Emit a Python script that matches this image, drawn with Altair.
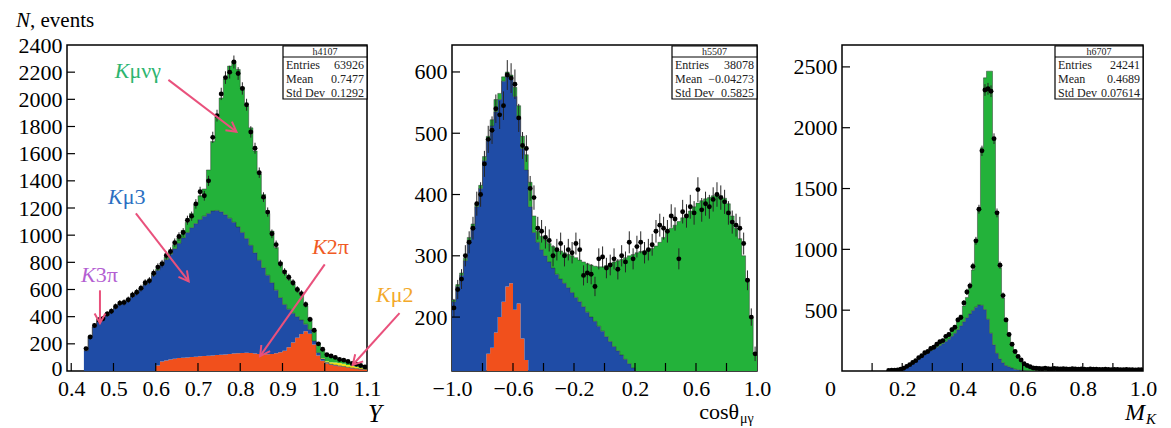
import math
import numpy as np
import pandas as pd
import altair as alt

FONT = "Liberation Serif, Times New Roman, DejaVu Serif, serif"
GREEN = "#23b23a"
BLUE = "#1f4ca6"
RED = "#f1501c"
YELLOW = "#ede31b"
PINK = "#e9517c"

# ---------------- panel 1 : Y (bins of 0.01 starting at 0.43) ----------------
Y_START, Y_BW = 0.43, 0.01
y_red = [0] * 17 + [40, 70, 78, 85, 90, 95, 98, 100, 103, 105,
                    108, 110, 112, 115, 118, 120, 122, 125, 128, 130,
                    132, 135, 132, 128, 125, 122, 124, 126, 130, 138,
                    150, 175, 210, 245, 272, 292, 275, 195, 115, 75,
                    55, 45, 40, 35, 30, 25, 20, 16, 13, 10]
y_blue = [150, 255, 325, 365, 390, 410, 440, 465, 490, 510, 528, 548, 572, 598, 635, 665, 705,
          702, 712, 742, 775, 810, 845, 882, 920, 952, 980,
          1007, 1030, 1048, 1063, 1064, 1052, 1028, 1000, 967, 930,
          888, 840, 793, 742, 690, 638, 581, 524, 465, 402,
          340, 280, 215, 155, 103, 53, 30, 25, 20, 13,
          7, 5, 4, 3, 3, 2, 2, 2, 1, 1]
y_yellow = [0] * 56 + [5, 10, 15, 18, 20, 20, 18, 16, 13, 10, 8]
y_green = [0, 0, 0, 0, 0, 2, 2, 2, 2, 2,
           2, 2, 3, 4, 5, 5, 7, 10, 13, 18,
           22, 30, 40, 55, 75, 105, 140, 175, 200, 320,
           512, 688, 838, 1000, 1120, 1185, 1160, 1070, 975, 865,
           750, 635, 540, 455, 380, 315, 260, 230, 220, 215,
           205, 185, 135, 85, 75, 70, 62, 53, 45, 36,
           30, 25, 23, 20, 17, 14, 9]
y_data = [165, 250, 335, 375, 385, 420, 440, 475, 500, 505,
          525, 560, 580, 610, 650, 665, 720, 765, 790, 850,
          880, 945, 990, 1020, 1110, 1140, 1230, 1320, 1290, 1400,
          1720, 1880, 2040, 2160, 2200, 2275, 2190, 2080, 1960, 1760,
          1640, 1460, 1280, 1170, 1010, 930, 790, 730, 690, 650,
          600, 570, 490, 380, 300, 200, 160, 120, 110, 100,
          85, 80, 70, 55, 50, 40, 30]

# ---------------- panel 2 : cos(theta) (bins of 0.025 from -1) ----------------
C_START, C_BW = -1.0, 0.025
c_red = [0] * 9 + [140, 150, 175, 200, 225, 250, 255, 212, 222, 165, 130] + [0] * 60
c_blue = [225, 250, 268, 292, 325, 348, 380, 410, 455, 348,
          362, 360, 355, 360, 348, 335, 348, 303, 310, 310,
          380, 338, 322, 310, 300, 290, 280, 270, 262, 255,
          248, 240, 232, 225, 217, 208, 200, 193, 185, 177,
          168, 160, 152, 145, 138, 131, 124, 117, 110, 104,
          98, 92, 87, 82, 77, 72, 68, 64, 60, 56,
          53, 50, 47, 44, 41, 38, 36, 34, 32, 30,
          28, 26, 24, 22, 20, 18, 16, 14, 12, 10]
c_green = [3, 3, 4, 4, 5, 4, 5, 5, 7, 7,
           10, 20, 10, 7, 2, 5, 15, 20, 20, 25,
           40, 27, 18, 22, 26, 30, 35, 41, 46, 50,
           54, 60, 65, 68, 73, 79, 85, 90, 97, 105,
           116, 127, 138, 147, 156, 166, 176, 185, 195, 203,
           210, 218, 225, 234, 245, 258, 270, 281, 290, 300,
           309, 317, 326, 336, 345, 352, 357, 361, 366, 370,
           370, 368, 361, 343, 325, 310, 284, 248, 188, 130]
c_data = [215, 245, 262, 300, 322, 345, 385, 400, 450, 490,
          505, 540, 530, 545, 595, 590, 580, 525, 480, 475,
          410, 395, 345, 340, 330, 325, 300, 310, 320, 300,
          310, 305, 320, 310, 268, 272, 270, 250, 295, 298,
          280, 285, 295, 278, 300, 290, 322, 295, 315, 322,
          305, 310, 318, 340, 350, 345, 340, 365, 360, 295,
          372, 365, 380, 370, 408, 375, 385, 380, 392, 400,
          395, 388, 370, 355, 350, 345, 320, 260, 200, 140]

# ---------------- panel 3 : M_K (bins of 0.01 starting at 0.15) ----------------
M_START, M_BW = 0.15, 0.01
m_blue = [2, 3, 4, 6, 10, 18, 30, 45, 62, 80,
          98, 115, 132, 150, 166, 182, 196, 210, 225, 242,
          262, 285, 310, 340, 372, 405, 438, 468, 498, 525,
          543, 540, 505, 425, 310, 215, 145, 100, 68, 45,
          35, 24, 15, 10, 6, 4, 3, 2, 1, 1] + [0] * 35
m_green = [1, 1, 2, 2, 2, 3, 4, 5, 6, 8,
           10, 12, 14, 14, 16, 18, 22, 26, 31, 36,
           40, 47, 56, 65, 88, 130, 167, 222, 332, 535,
           797, 1295, 1905, 2040, 2155, 1700, 1145, 750, 532, 365,
           265, 191, 145, 108, 82, 62, 45, 32, 11, 4] + [3] * 35
m_data = [5, 6, 6, 8, 14, 22, 38, 52, 70, 85,
          110, 125, 150, 160, 185, 195, 220, 240, 250, 285,
          300, 340, 360, 420, 440, 560, 650, 700, 860, 1070,
          1330, 1810, 2310, 2320, 2300, 1910, 1300, 870, 620, 420,
          300, 220, 160, 120, 90, 60, 45, 35, 25, 22,
          20, 18, 22, 19, 17, 20, 18, 16, 19, 17, 15, 18, 16, 14, 17,
          15, 13, 16, 14, 15, 13, 12, 14, 13, 11, 12, 13, 11, 10, 12,
          11, 10, 9, 11, 10]

# ---------------- annotations (panel 1, data coordinates) ----------------
lab_k = ["K", "K", "K", "K", "K"]
lab_rest = ["μνγ", "μ3", "3π", "2π", "μ2"]
lab_x = [0.538, 0.522, 0.458, 1.005, 1.156]
lab_y = [2158, 1226, 653, 859, 506]
lab_col = ["#2db56f", "#2b6fc2", "#b45fd2", "#f05a24", "#f3a92a"]
arr_x0 = [0.630, 0.553, 0.468, 1.000, 1.177]
arr_y0 = [2143, 1160, 594, 785, 426]
arr_x1 = [0.791, 0.678, 0.468, 0.847, 1.066]
arr_y1 = [1761, 660, 352, 110, 44]

H = 326
W1, W2, W3 = 300, 305, 301


def frames(start, bw, comps):
    n = len(comps[0])
    edges = start + bw * np.arange(n + 1)
    cum = np.zeros(n)
    out = []
    for vals in comps:
        v = np.asarray(vals, dtype=float)
        lo, hi = cum.copy(), cum + v
        out.append(pd.DataFrame({"x": edges, "lo": np.append(lo, lo[-1]),
                                 "hi": np.append(hi, hi[-1])}))
        cum = hi
    return out


def make_enc(xscale, xaxis, yscale, yaxis):
    def X(f):
        return alt.X(f, type="quantitative", scale=xscale, axis=xaxis)

    def Y(f):
        return alt.Y(f, type="quantitative", scale=yscale, axis=yaxis)
    return X, Y


def axis(values, expr, pad=5, **kw):
    return alt.Axis(values=values, ticks=False, domain=False, grid=False,
                    labelFont=FONT, labelFontSize=22, labelColor="black",
                    labelPadding=pad, labelOverlap=False, labelFlush=False,
                    labelBound=False, title=None, labelExpr=expr, **kw)


def hist_layers(dfs, colors, outline, X, Y):
    L = []
    for df, col in zip(dfs, colors):
        L.append(alt.Chart(df).mark_area(interpolate="step-after", color=col, opacity=1,
                                         clip=True)
                 .encode(x=X("x"), y=Y("hi"), y2=alt.Y2("lo")))
    for df, ol in zip(dfs, outline):
        if ol:
            L.append(alt.Chart(df).mark_line(interpolate="step-after", color="#2a2a2a",
                                             strokeWidth=0.8, opacity=0.55, clip=True)
                     .encode(x=X("x"), y=Y("hi")))
    return L


def data_layers(start, bw, vals, X, Y):
    df = pd.DataFrame({"xc": start + bw * (np.arange(len(vals)) + 0.5), "d": vals})
    base = alt.Chart(df).transform_calculate(elo="datum.d - sqrt(datum.d)",
                                             ehi="datum.d + sqrt(datum.d)")
    rules = base.mark_rule(color="#262626", strokeWidth=1, clip=True).encode(
        x=X("xc"), y=Y("elo"), y2=alt.Y2("ehi"))
    pts = alt.Chart(df).mark_circle(color="black", size=24, opacity=1, clip=True).encode(
        x=X("xc"), y=Y("d"))
    return [rules, pts]


def tick_layers(xt, yt, X, Y, L=8):
    a = alt.Chart(pd.DataFrame({"t": xt})).mark_rule(color="black", strokeWidth=1.2).encode(
        x=X("t"), y=alt.value(H), y2=alt.value(H - L))
    b = alt.Chart(pd.DataFrame({"t": yt})).mark_rule(color="black", strokeWidth=1.2).encode(
        y=Y("t"), x=alt.value(0), x2=alt.value(L))
    return [a, b]


ONE = pd.DataFrame({"k": [0]})


def txt(text, x, y, size, align="left", style="normal", color="black", baseline="alphabetic"):
    return alt.Chart(ONE).mark_text(text=text, font=FONT, fontSize=size, align=align,
                                    baseline=baseline, fontStyle=style, color=color).encode(
        x=alt.value(x), y=alt.value(y))


def stat_box(W, name, rows, bw):
    L = W - bw
    out = [
        alt.Chart(ONE).mark_rect(fill="white", stroke="black", strokeWidth=1.2).encode(
            x=alt.value(L), x2=alt.value(W), y=alt.value(1), y2=alt.value(54)),
        alt.Chart(ONE).mark_rule(color="black", strokeWidth=1).encode(
            x=alt.value(L), x2=alt.value(W), y=alt.value(12)),
        txt(name, L + bw / 2, 6.8, 10, align="center", color="#222", baseline="middle"),
    ]
    for i, (lab, val) in enumerate(rows):
        yy = 20 + 14 * i
        out.append(txt(lab, L + 3, yy, 12, color="#222", baseline="middle"))
        out.append(txt(val, W - 3, yy, 12, align="right", color="#222", baseline="middle"))
    return out


# ---------------- build panel 1 ----------------
X1, Y1 = make_enc(alt.Scale(domain=[0.39, 1.1], nice=False, zero=False),
                  axis([0.4, 0.5, 0.6, 0.7, 0.8, 0.9, 1.0, 1.1], "format(datum.value, '.1f')", pad=7),
                  alt.Scale(domain=[0, 2400], nice=False, zero=False),
                  axis(list(range(0, 2401, 200)), "format(datum.value, 'd')",
                       labelOffset={"condition": {"test": "datum.value == 0", "value": -3},
                                    "value": 0}))
d1 = frames(Y_START, Y_BW, [y_red, y_blue, y_yellow, y_green])
L1 = hist_layers(d1, [RED, BLUE, YELLOW, GREEN], [False, True, False, True], X1, Y1)
L1 += data_layers(Y_START, Y_BW, y_data, X1, Y1)
L1 += tick_layers([0.4, 0.5, 0.6, 0.7, 0.8, 0.9, 1.0], list(range(200, 2400, 200)), X1, Y1)

pxx = W1 / (1.1 - 0.39)
pxy = H / 2400.0
ang = []
for a, b, c, d in zip(arr_x0, arr_y0, arr_x1, arr_y1):
    dx = (c - a) * pxx
    dy = -(d - b) * pxy
    ang.append(math.degrees(math.atan2(dx, -dy)) % 360)
arr = pd.DataFrame({"x": arr_x0, "y": arr_y0, "x2": arr_x1, "y2": arr_y1, "ang": ang})
L1.append(alt.Chart(arr).mark_rule(color=PINK, strokeWidth=2).encode(
    x=X1("x"), y=Y1("y"), x2=alt.X2("x2"), y2=alt.Y2("y2")))
L1.append(alt.Chart(arr).mark_point(shape="M-0.55,1 L0,0 L0.55,1", size=380, filled=False,
                                    strokeWidth=2, color=PINK, opacity=1).encode(
    x=X1("x2"), y=Y1("y2"), angle=alt.Angle("ang:Q", scale=None)))
labs = pd.DataFrame({"x": lab_x, "y": lab_y, "k": lab_k, "r": lab_rest, "c": lab_col})
L1.append(alt.Chart(labs).mark_text(font=FONT, fontSize=22, fontStyle="italic", align="right",
                                    baseline="alphabetic").encode(
    x=X1("x"), y=Y1("y"), text="k:N", color=alt.Color("c:N", scale=None)))
L1.append(alt.Chart(labs).mark_text(font=FONT, fontSize=22, align="left",
                                    baseline="alphabetic").encode(
    x=X1("x"), y=Y1("y"), text="r:N", color=alt.Color("c:N", scale=None)))
L1 += stat_box(W1, "h4107", [("Entries", "63926"), ("Mean", "0.7477"), ("Std Dev", "0.1292")], 84)
L1.append(txt("N", -51, -18, 21, style="italic"))
L1.append(txt(", events", -37, -18, 21))
L1.append(txt("Y", W1 + 8, H + 51, 25, align="center", style="italic"))
p1 = alt.layer(*L1).properties(width=W1, height=H)

# ---------------- build panel 2 ----------------
X2, Y2 = make_enc(alt.Scale(domain=[-1, 1], nice=False, zero=False),
                  axis([-1.0, -0.6, -0.2, 0.2, 0.6, 1.0],
                       "replace(format(datum.value, '.1f'), '-', '\u2212')", pad=7),
                  alt.Scale(domain=[112, 644], nice=False, zero=False),
                  axis([200, 300, 400, 500, 600], "format(datum.value, 'd')"))
d2 = frames(C_START, C_BW, [c_red, c_blue, c_green])
L2 = hist_layers(d2, [RED, BLUE, GREEN], [False, True, True], X2, Y2)
L2 += data_layers(C_START, C_BW, c_data, X2, Y2)
L2 += tick_layers([-0.8, -0.6, -0.4, -0.2, 0.0, 0.2, 0.4, 0.6, 0.8], [200, 300, 400, 500, 600], X2, Y2)
L2 += stat_box(W2, "h5507", [("Entries", "38078"), ("Mean", "\u22120.04273"), ("Std Dev", "0.5825")], 85)
L2.append(txt("cosθ", 287, H + 48, 22, align="right"))
L2.append(txt("μγ", 288, H + 52, 14))
p2 = alt.layer(*L2).properties(width=W2, height=H)

# ---------------- build panel 3 ----------------
X3, Y3 = make_enc(alt.Scale(domain=[0, 1], nice=False, zero=False),
                  axis([0.0, 0.2, 0.4, 0.6, 0.8, 1.0],
                       "datum.value == 0 ? '0' : format(datum.value, '.1f')", pad=7,
                       labelOffset={"condition": {"test": "datum.value == 0", "value": -12},
                                    "value": 0}),
                  alt.Scale(domain=[0, 2680], nice=False, zero=False),
                  axis([500, 1000, 1500, 2000, 2500], "format(datum.value, 'd')"))
d3 = frames(M_START, M_BW, [m_blue, m_green])
L3 = hist_layers(d3, [BLUE, GREEN], [True, True], X3, Y3)
L3 += data_layers(M_START, M_BW, m_data, X3, Y3)
L3 += tick_layers([0.1, 0.2, 0.3, 0.4, 0.5, 0.6, 0.7, 0.8, 0.9], [500, 1000, 1500, 2000, 2500], X3, Y3)
L3 += stat_box(W3, "h6707", [("Entries", "24241"), ("Mean", "0.4689"), ("Std Dev", "0.07614")], 88)
L3.append(txt("M", 303, H + 49, 24, align="right", style="italic"))
L3.append(txt("K", 304, H + 53, 15, style="italic"))
p3 = alt.layer(*L3).properties(width=W3, height=H)

chart = (alt.hconcat(p1, p2, p3, spacing=85, bounds="flush")
         .properties(padding={"left": 7, "top": 1, "right": 5, "bottom": 0}, background="white")
         .configure_view(stroke="black", strokeWidth=1.5))

chart.save("out.html", embed_options={"renderer": "svg", "actions": False})
